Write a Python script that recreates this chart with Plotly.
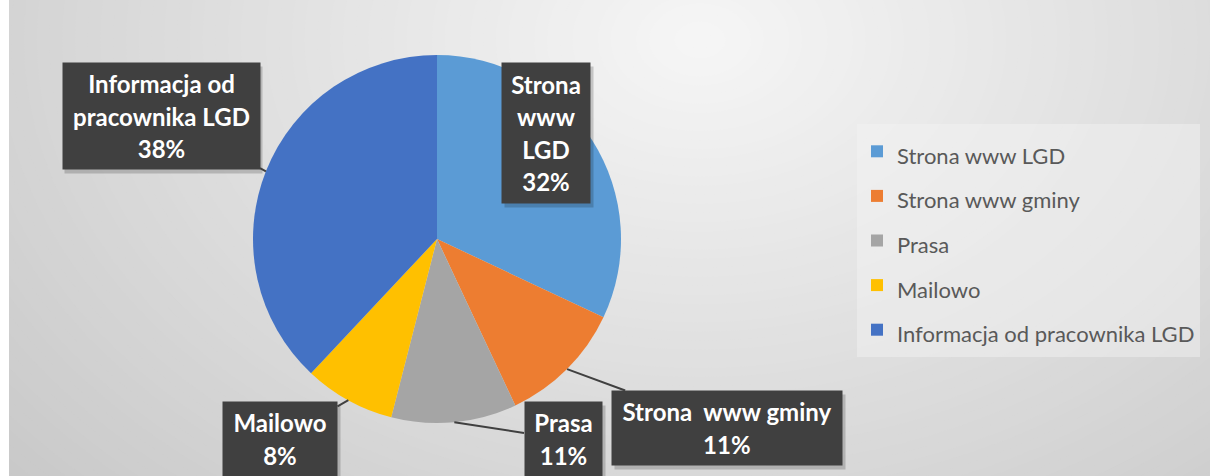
import math
import plotly.graph_objects as go

# dane
categories = ["Strona www LGD", "Strona www gminy", "Prasa", "Mailowo", "Informacja od pracownika LGD"]
shares = [32, 11, 11, 8, 38]
slice_colors = ["#5B9BD5", "#ED7D31", "#A5A5A5", "#FFC000", "#4472C4"]
label_lines = [["Strona", "www", "LGD"], ["Strona  www gminy"], ["Prasa"], ["Mailowo"],
               ["Informacja od", "pracownika LGD"]]

W, H = 1210, 476
cx, cy, r = 437, 239, 184  # pie centre / radius in px

# label boxes: centre x, centre y, width, height (px)
boxes = [(546, 133, 88, 140), (727, 428, 230, 74), (563, 439, 77, 74),
         (280, 439, 114, 74), (161, 116, 197, 106)]

fig = go.Figure()
fig.add_trace(go.Pie(
    labels=[f"<span style='font-size:22px'>{c}</span>" for c in categories],
    values=shares,
    sort=False, direction="clockwise", rotation=0,
    marker=dict(colors=slice_colors, line=dict(width=0)),
    textinfo="none", hoverinfo="label+percent",
    domain=dict(x=[(cx - r) / W, (cx + r) / W], y=[1 - (cy + r) / H, 1 - (cy - r) / H]),
))

# tlo - gradient radialny
shapes = []
gx, gy, n = 700, 40, 90
for i in range(n):
    t = 1 - i / n
    rad = 820 * t
    c = int(round(246 - 56 * t))
    shapes.append(dict(type="circle", xref="paper", yref="paper", layer="below",
                       x0=(gx - rad * 1.4) / W, x1=(gx + rad * 1.4) / W,
                       y0=1 - (gy + rad) / H, y1=1 - (gy - rad) / H,
                       fillcolor=f"rgb({c},{c},{c})", line_width=0))
shapes.append(dict(type="rect", xref="paper", yref="paper", layer="below",
                   x0=0, x1=9 / W, y0=0, y1=1, fillcolor="white", line_width=0))

# etykiety
total = sum(shares)
annotations = []
cum = 0
for k, v in enumerate(shares):
    mid = (cum + v / 2) / total * 2 * math.pi
    cum += v
    tx = cx + r * math.sin(mid)
    ty = cy - r * math.cos(mid)
    bx, by, bw, bh = boxes[k]
    lines = label_lines[k] + [f"{v / total * 100:.0f}%"]
    txt = "<br>".join(f"<span style='font-size:24px'><b>{s}</b></span>" for s in lines)
    # cien
    annotations.append(dict(xref="paper", yref="paper", x=(bx + 3) / W, y=1 - (by + 4) / H,
                            text=" ", showarrow=False, width=bw, height=bh, borderpad=0,
                            bgcolor="rgba(0,0,0,0.18)", xanchor="center", yanchor="middle"))
    a = dict(xref="paper", yref="paper", text=txt, width=bw, height=bh, borderpad=0,
             bgcolor="#404040", font=dict(family="Lato", size=25, color="white"),
             align="center", valign="middle")
    if k == 0:
        a.update(x=bx / W, y=1 - by / H, showarrow=False, xanchor="center", yanchor="middle")
    else:
        a.update(x=tx / W, y=1 - ty / H, showarrow=True, ax=bx - tx, ay=by - ty,
                 arrowhead=0, arrowwidth=2, arrowcolor="#404040", standoff=0)
    annotations.append(a)

fig.update_layout(
    width=W, height=H,
    margin=dict(l=0, r=0, t=0, b=0),
    paper_bgcolor="white",
    shapes=shapes,
    annotations=annotations,
    showlegend=True,
    legend=dict(x=857 / W, y=1 - 124 / H, xanchor="left", yanchor="top",
                bgcolor="rgba(245,245,245,0.45)",
                font=dict(family="Lato", size=32, color="#595959")),
)

fig.write_html("out.html", config={"displayModeBar": False},
               post_script="document.body.style.margin='0';")
